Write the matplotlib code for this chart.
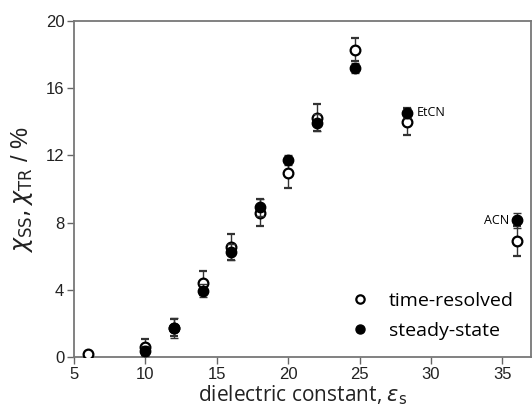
import matplotlib
matplotlib.use("Agg")
import matplotlib.pyplot as plt
from matplotlib.lines import Line2D

eps = [6, 10, 12, 14, 16, 18, 20, 22, 24.7, 28.3, 36]
tr = [0.15, 0.6, 1.75, 4.4, 6.55, 8.6, 10.95, 14.25, 18.3, 14.0, 6.9]
tr_err = [0.15, 0.5, 0.5, 0.7, 0.8, 0.8, 0.9, 0.8, 0.7, 0.8, 0.9]
ss = [float('nan'), 0.35, 1.75, 3.95, 6.25, 8.9, 11.75, 13.95, 17.2, 14.55, 8.15]
ss_err = [0.0, 0.3, 0.6, 0.4, 0.5, 0.5, 0.3, 0.5, 0.3, 0.3, 0.45]

fig = plt.figure(figsize=(5.32, 4.18), dpi=100)
ax = fig.add_axes([74/532, 1-357/418, (531-74)/532, (357-21)/418])

ax.errorbar(eps, tr, yerr=tr_err, fmt='o', mfc='white', mec='black', mew=1.6,
            ms=7, ecolor='#333333', elinewidth=1.0, capsize=3, capthick=1.0,
            zorder=3)
ax.errorbar(eps, ss, yerr=ss_err, fmt='o', mfc='black', mec='black',
            ms=7.5, ecolor='#333333', elinewidth=1.0, capsize=3, capthick=1.0,
            zorder=4)

ax.text(29.0, 14.55, 'EtCN', fontsize=9, family='Open Sans', va='center', ha='left')
ax.text(35.5, 8.15, 'ACN', fontsize=9, family='Open Sans', va='center', ha='right')

ax.set_xlim(5, 37)
ax.set_ylim(0, 20)
ax.set_xticks([5, 10, 15, 20, 25, 30, 35])
ax.set_yticks([0, 4, 8, 12, 16, 20])
for lab in ax.get_xticklabels() + ax.get_yticklabels():
    lab.set_fontfamily('Liberation Sans')
    lab.set_fontsize(12)
    lab.set_color('#222222')
ax.tick_params(direction='out', length=5, width=1.0, color='#666666', pad=2)
for s in ax.spines.values():
    s.set_color('#777777')
    s.set_linewidth(1.3)

ax.set_xlabel(r'dielectric constant, $\varepsilon_{\mathrm{s}}$', fontsize=15,
              family='Open Sans', labelpad=1, color='#222222')
ax.set_ylabel(r'$\chi_{\mathrm{SS}}, \chi_{\mathrm{TR}}$ / %', fontsize=17,
              family='Liberation Sans', labelpad=8, color='#222222')

handles = [
    Line2D([], [], ls='none', marker='o', mfc='white', mec='black', mew=1.6, ms=6),
    Line2D([], [], ls='none', marker='o', mfc='black', mec='black', ms=6.5),
]
ax.legend(handles, ['time-resolved', 'steady-state'], loc='lower right', frameon=False,
          prop={'family': 'Open Sans', 'size': 14}, handletextpad=0.7,
          borderaxespad=0.5, labelspacing=0.6, handlelength=1.5)

fig.savefig('out.png', dpi=100)
